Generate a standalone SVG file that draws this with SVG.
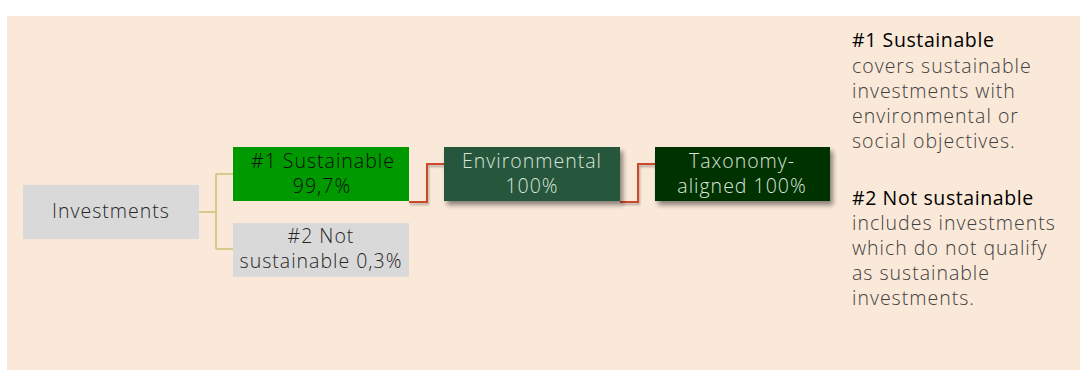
<svg xmlns="http://www.w3.org/2000/svg" width="1080" height="371" viewBox="0 0 1080 371">
<defs>
<filter id="sh" x="-10%" y="-20%" width="130%" height="160%">
<feGaussianBlur in="SourceAlpha" stdDeviation="2.5"/>
<feOffset dx="3" dy="4" result="b"/>
<feComponentTransfer><feFuncA type="linear" slope="0.45"/></feComponentTransfer>
<feMerge><feMergeNode/><feMergeNode in="SourceGraphic"/></feMerge>
</filter>
<filter id="lsh" x="-20%" y="-20%" width="140%" height="140%">
<feGaussianBlur in="SourceAlpha" stdDeviation="1"/>
<feOffset dx="1" dy="1.5" result="b"/>
<feComponentTransfer><feFuncA type="linear" slope="0.3"/></feComponentTransfer>
<feMerge><feMergeNode/><feMergeNode in="SourceGraphic"/></feMerge>
</filter>
</defs>
<style>
text{font-family:"Open Sans","Lato",sans-serif;font-weight:300;font-size:19.5px;letter-spacing:1px}
.c{text-anchor:middle}
.dk{fill:#262626}
.lt{fill:#dbe4db}
.note{fill:#404040}
.hd{fill:#000;font-weight:500;letter-spacing:0.6px}
.tan{fill:none;stroke:#d6c98a;stroke-width:2}
.red{fill:none;stroke:#cc4a2b;stroke-width:2}
</style>
<rect x="7" y="16" width="1073" height="354" fill="#fae8d8"/>
<g id="connectors">
<path class="tan" d="M199 212H216M216 174V249M216 174H233M216 249H233"/>
<path class="red" filter="url(#lsh)" d="M409 202H427V164H444"/>
<path class="red" filter="url(#lsh)" d="M620 202H638V164H655"/>
</g>
<g id="investments">
<rect x="23" y="185" width="176" height="54" fill="#d9d9d9"/>
<text class="c dk" x="111" y="218">Investments</text>
</g>
<g id="sustainable">
<rect x="233" y="147" width="176" height="54" fill="#009900"/>
<text class="c" fill="#0a0a0a"><tspan x="323" y="168">#1 Sustainable</tspan><tspan x="322" y="193">99,7%</tspan></text>
</g>
<g id="not-sustainable">
<rect x="233" y="223" width="176" height="54" fill="#d9d9d9"/>
<text class="c dk"><tspan x="321" y="243">#2 Not</tspan><tspan x="321" y="268">sustainable 0,3%</tspan></text>
</g>
<g id="environmental">
<rect x="444" y="147" width="176" height="54" fill="#26573a" filter="url(#sh)"/>
<text class="c lt"><tspan x="532" y="168">Environmental</tspan><tspan x="532" y="193">100%</tspan></text>
</g>
<g id="taxonomy">
<rect x="655" y="147" width="175" height="54" fill="#013300" filter="url(#sh)"/>
<text class="c lt"><tspan x="742" y="168">Taxonomy-</tspan><tspan x="742" y="193">aligned 100%</tspan></text>
</g>
<g id="legend">
<text class="hd" x="852" y="47">#1 Sustainable</text>
<text class="note"><tspan x="852" y="72.5">covers sustainable</tspan><tspan x="852" y="97.5">investments with</tspan><tspan x="852" y="122.5">environmental or</tspan><tspan x="852" y="147.5">social objectives.</tspan></text>
<text class="hd" x="852" y="205">#2 Not sustainable</text>
<text class="note"><tspan x="852" y="229.5">includes investments</tspan><tspan x="852" y="254.5">which do not qualify</tspan><tspan x="852" y="279.5">as sustainable</tspan><tspan x="852" y="304.5">investments.</tspan></text>
</g>
</svg>
